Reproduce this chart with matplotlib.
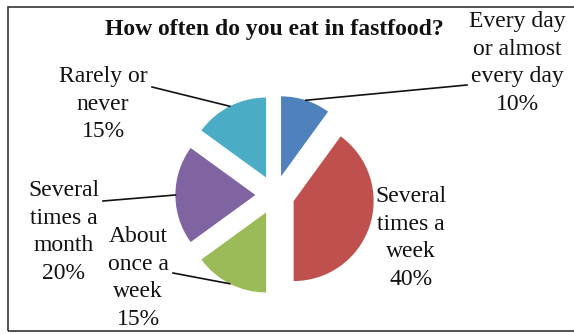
import math
import matplotlib
matplotlib.use("Agg")
import matplotlib.pyplot as plt
from matplotlib.patches import Rectangle

categories = ["Every day\nor almost\nevery day", "Several\ntimes a\nweek",
              "About\nonce a\nweek", "Several\ntimes a\nmonth", "Rarely or\nnever"]
shares = [10, 40, 15, 20, 15]
colors = ["#4F81BD", "#C0504D", "#9BBB59", "#8064A2", "#4BACC6"]

W, H = 574, 334
CX, CY, R = 275, 195, 80   # pie centre and radius in pixels


def px(x, y):
    # pixel position (origin top-left) -> data units, pie radius = 1
    return (x - CX) / R, (CY - y) / R


# label centres and leader end points, in pixels
label_pos = [(517, 63), (411, 238), (138, 278), (64, 232), (103, 104)]
leader_end = [(467, 85), None, (173, 273), (103, 201), (152, 87)]

plt.rcParams["font.family"] = ["Liberation Serif", "DejaVu Serif"]

fig = plt.figure(figsize=(W / 100, H / 100), dpi=100)
ax = fig.add_axes([0, 0, 1, 1])

wedges, _ = ax.pie(shares, colors=colors, startangle=90, counterclock=False,
                   explode=[0.245] * len(shares), radius=1, center=(0, 0),
                   wedgeprops=dict(linewidth=0))

# pie() resets the limits, so set them afterwards
ax.set_xlim(-CX / R, (W - CX) / R)
ax.set_ylim(-(H - CY) / R, CY / R)
ax.set_aspect("equal")
ax.axis("off")

for w, cat, val, pos, end in zip(wedges, categories, shares, label_pos, leader_end):
    tx, ty = px(*pos)
    ax.text(tx, ty, f"{cat}\n{val}%", ha="center", va="center",
            fontsize=17, linespacing=1.4, color="#111111")
    if end is not None:
        mid = math.radians((w.theta1 + w.theta2) / 2)
        sx = w.center[0] + w.r * math.cos(mid)
        sy = w.center[1] + w.r * math.sin(mid)
        ex, ey = px(*end)
        ax.plot([sx, ex], [sy, ey], color="#111111", lw=1.2)

tx, ty = px(274, 29)
ax.text(tx, ty, "How often do you eat in fastfood?", ha="center", va="center",
        fontsize=17, fontweight="bold", color="#111111")

# outer frame, open on the right
fig.patches.append(Rectangle((8 / W, 3 / H), 1.2, (H - 10) / H,
                             transform=fig.transFigure, fill=False,
                             edgecolor="#333333", lw=1.2, clip_on=False))

fig.savefig("out.png", dpi=100)
